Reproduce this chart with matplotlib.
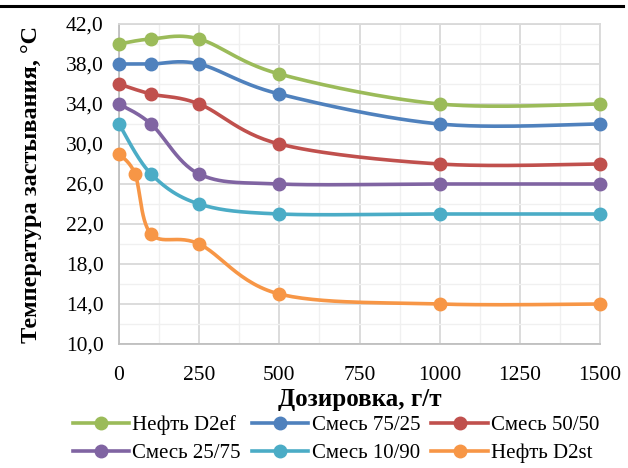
import numpy as np
import matplotlib
matplotlib.use("Agg")
import matplotlib.pyplot as plt
from matplotlib.lines import Line2D
from matplotlib.ticker import FixedLocator, MultipleLocator, FuncFormatter

series_names = ["Нефть D2ef", "Смесь 75/25", "Смесь 50/50",
                "Смесь 25/75", "Смесь 10/90", "Нефть D2st"]
colors = ["#9BBB59", "#4F81BD", "#C0504D", "#8064A2", "#4BACC6", "#F79646"]

x_common = [0, 100, 250, 500, 1000, 1500]
y_d2ef = [40.0, 40.5, 40.5, 37.0, 34.0, 34.0]
y_7525 = [38.0, 38.0, 38.0, 35.0, 32.0, 32.0]
y_5050 = [36.0, 35.0, 34.0, 30.0, 28.0, 28.0]
y_2575 = [34.0, 32.0, 27.0, 26.0, 26.0, 26.0]
y_1090 = [32.0, 27.0, 24.0, 23.0, 23.0, 23.0]
x_d2st = [0, 50, 100, 250, 500, 1000, 1500]
y_d2st = [29.0, 27.0, 21.0, 20.0, 15.0, 14.0, 14.0]

y_ticks = [10, 14, 18, 22, 26, 30, 34, 38, 42]
x_ticks = [0, 250, 500, 750, 1000, 1250, 1500]

xs = [x_common] * 5 + [x_d2st]
ys = [y_d2ef, y_7525, y_5050, y_2575, y_1090, y_d2st]

plt.rcParams['font.family'] = ['Liberation Serif', 'DejaVu Serif']

fig = plt.figure(figsize=(6.28, 4.68), dpi=100)
W, H = 628, 468
L, R, T, B = 119, 600, 24, 344
ax = fig.add_axes([L / W, 1 - B / H, (R - L) / W, (B - T) / H])

XMIN, XMAX, YMIN, YMAX = 0, 1500, 10, 42
sx = (R - L) / (XMAX - XMIN)
sy = (B - T) / (YMAX - YMIN)


def smooth(x, y, n=30):
    # Catmull-Rom style Bezier smoothing in screen space (like Excel's smoothed lines)
    px = np.asarray(x, float) * sx
    py = np.asarray(y, float) * sy
    P = np.column_stack([px, py])
    out = [P[0]]
    m = len(P)
    for i in range(m - 1):
        p0 = P[i - 1] if i > 0 else P[i]
        p1 = P[i]
        p2 = P[i + 1]
        p3 = P[i + 2] if i + 2 < m else P[i + 1]
        c1 = p1 + (p2 - p0) / 6.0
        c2 = p2 - (p3 - p1) / 6.0
        t = np.linspace(0, 1, n)[1:, None]
        seg = ((1 - t) ** 3) * p1 + 3 * ((1 - t) ** 2) * t * c1 + 3 * (1 - t) * t ** 2 * c2 + t ** 3 * p2
        out.extend(seg)
    out = np.array(out)
    return out[:, 0] / sx, out[:, 1] / sy


for x, y, c, name in zip(xs, ys, colors, series_names):
    cx, cy = smooth(x, y)
    ax.plot(cx, cy, color=c, lw=2.6, solid_capstyle='round', zorder=3, clip_on=False)
    ax.plot(x, y, 'o', color=c, ms=9, zorder=4, clip_on=False)

ax.set_xlim(XMIN, XMAX)
ax.set_ylim(YMIN, YMAX)
ax.xaxis.set_major_locator(FixedLocator(x_ticks))
ax.xaxis.set_minor_locator(MultipleLocator(125))
ax.yaxis.set_major_locator(FixedLocator(y_ticks))
ax.yaxis.set_minor_locator(MultipleLocator(2))
ax.yaxis.set_major_formatter(FuncFormatter(lambda v, p: f"{v:.1f}".replace('.', ',')))
ax.grid(which='major', color='#D9D9D9', lw=1.3, zorder=0)
ax.grid(which='minor', color='#F0F0F0', lw=1.0, zorder=0)
ax.set_axisbelow(True)
for s in ax.spines.values():
    s.set_color('#D9D9D9')
    s.set_linewidth(1.3)
ax.spines['left'].set_color('#BFBFBF')
ax.spines['bottom'].set_color('#BFBFBF')
ax.tick_params(which='both', length=0, labelsize=15.5, colors='#000000')
ax.tick_params(axis='x', pad=16)
ax.tick_params(axis='y', pad=11)

ax.set_xlabel("Дозировка, г/т", fontsize=18, fontweight='bold', labelpad=2)
ax.set_ylabel("Температура застывания, \u00b0С", fontsize=17.5, fontweight='bold', labelpad=17)

# legend: matplotlib fills column-wise, reorder so rows read like the reference
order = [0, 3, 1, 4, 2, 5]
handles = [Line2D([0], [0], color=colors[i], lw=2.6, marker='o', ms=9) for i in order]
labels = [series_names[i] for i in order]
fig.legend(handles, labels, loc='center', bbox_to_anchor=(336 / W, 1 - 439 / H),
           ncol=3, frameon=False, fontsize=15, handlelength=2.7, handletextpad=0.15,
           columnspacing=0.55, labelspacing=0.4, borderpad=0)

fig.add_artist(Line2D([0, 623 / W], [1 - 6 / H, 1 - 6 / H], color='black', lw=2.2,
                      transform=fig.transFigure))

fig.savefig("out.png", dpi=100)
